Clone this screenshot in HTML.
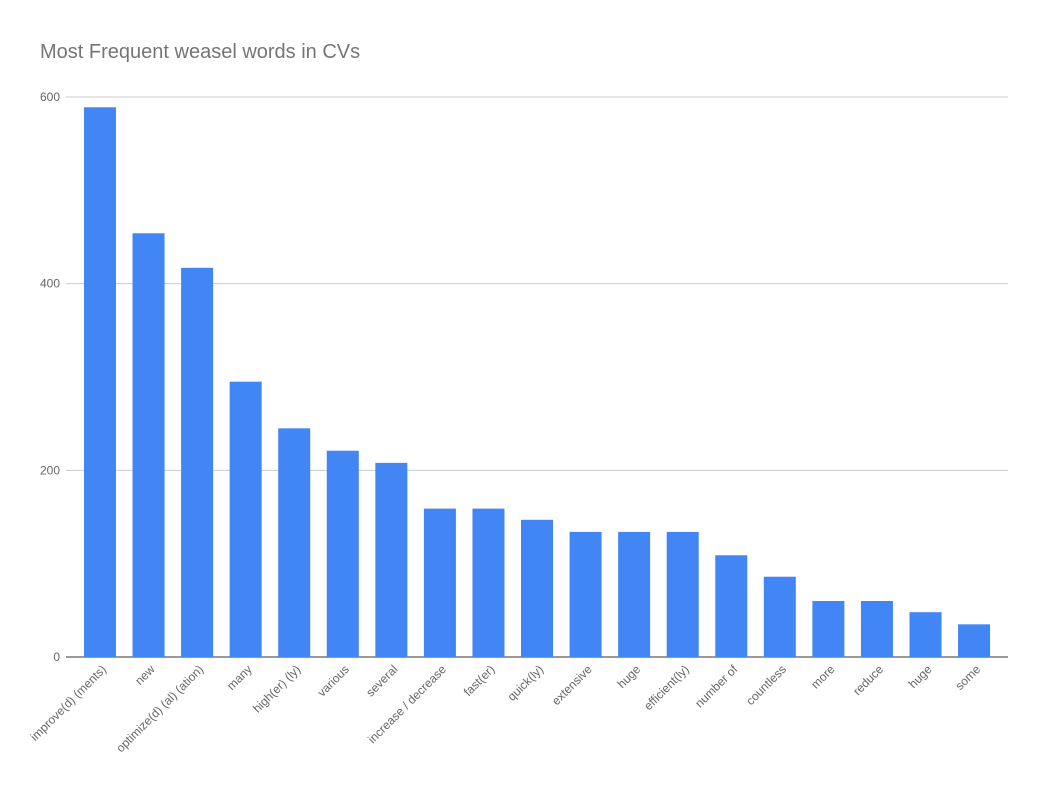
<!DOCTYPE html>
<html><head><meta charset="utf-8"><style>
body{margin:0;background:#fff;font-family:"Liberation Sans",Arial,sans-serif}
</style></head><body>
<svg id="chart" width="1047" height="795" xmlns="http://www.w3.org/2000/svg">
<rect width="1047" height="795" fill="#fff"/>
<text x="40" y="58" font-size="20" fill="#757575" font-family="Liberation Sans, sans-serif">Most Frequent weasel words in CVs</text>
<g id="grid"></g><g id="bars"></g><g id="labels"></g>
</svg>
<script>
const categories=["improve(d) (ments)","new","optimize(d) (al) (ation)","many","high(er) (ly)","various","several","increase / decrease","fast(er)","quick(ly)","extensive","huge","efficient(ly)","number of","countless","more","reduce","huge","some"];
const values=[589,454,417,295,245,221,208,159,159,147,134,134,134,109,86,60,60,48,35];
const yTicks=[0,200,400,600];
const NS="http://www.w3.org/2000/svg";
const y0=657,yTop=97,yMax=600,x0=75.7,step=48.56,bw=32;
const y=v=>y0-(v/yMax)*(y0-yTop);
const xc=i=>x0+step*(i+0.5);
const grid=document.getElementById('grid'),bars=document.getElementById('bars'),labels=document.getElementById('labels');
yTicks.forEach(t=>{
 const l=document.createElementNS(NS,'line');
 
 
 l.setAttribute('x1',66);l.setAttribute('x2',1008);l.setAttribute('y1',y(t));l.setAttribute('y2',y(t));
 l.setAttribute('stroke',t===0?'#333':'#ccc');l.setAttribute('stroke-width',1);
 grid.appendChild(l);
 const tx=document.createElementNS(NS,'text');
 
 
 tx.setAttribute('x',60);tx.setAttribute('y',y(t)+4);tx.setAttribute('text-anchor','end');
 tx.setAttribute('font-size',12);tx.setAttribute('fill','#666');tx.textContent=t;
 grid.appendChild(tx);
});
values.forEach((v,i)=>{
 const r=document.createElementNS(NS,'rect');
 
 
 r.setAttribute('x',xc(i)-bw/2);r.setAttribute('width',bw);r.setAttribute('y',y(v));r.setAttribute('height',y0-y(v));
 r.setAttribute('fill','#4285f4');
 bars.appendChild(r);
 const tx=document.createElementNS(NS,'text');
 
 
 const lx=xc(i)+7,ly=670;
 tx.setAttribute('x',lx);tx.setAttribute('y',ly);tx.setAttribute('text-anchor','end');
 tx.setAttribute('transform','rotate(-45 '+lx+' '+ly+')');
 tx.setAttribute('font-size',12);tx.setAttribute('fill','#666');tx.textContent=categories[i];
 labels.appendChild(tx);
});
</script>
</body></html>
